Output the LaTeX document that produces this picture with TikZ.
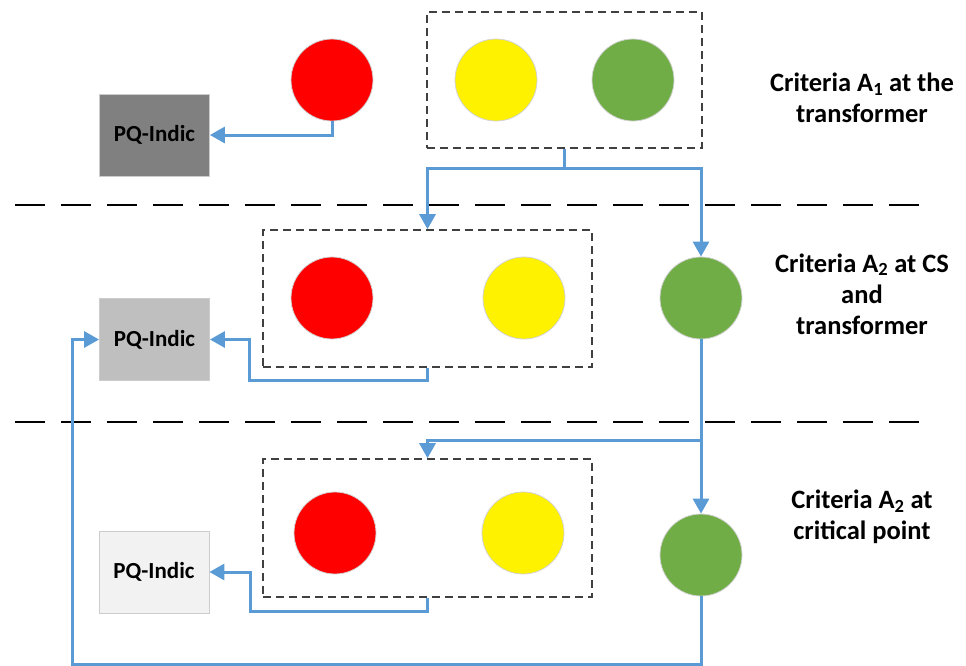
\documentclass[tikz,border=0pt]{standalone}
\usepackage{fontspec}
\setmainfont{Carlito}
\usetikzlibrary{arrows.meta,positioning}
\definecolor{lblue}{HTML}{5B9BD5}
\definecolor{lgreen}{HTML}{70AD47}
\begin{document}
\begin{tikzpicture}[x=1pt,y=-1pt,font=\bfseries\fontsize{23}{30}\selectfont,
    lamp/.style={circle,minimum size=82pt,inner sep=0pt,draw=gray!35,line width=0.8pt},
    pq/.style={minimum width=110pt,minimum height=82pt,inner sep=0pt,draw=gray!40,line width=0.8pt},
    grp/.style={draw=black!75,line width=1.6pt,dash pattern=on 8pt off 5pt},
    conn/.style={draw=lblue,line width=3pt,-{Triangle[length=15pt,width=16pt]}},
    sep/.style={line width=2.2pt,dash pattern=on 30pt off 16pt},
    lbl/.style={align=center,font=\bfseries\fontsize{26.5}{31}\selectfont}]
 \useasboundingbox (0,0) rectangle (966,665);
 % stage 1
 \node[grp,minimum width=275pt,minimum height=136pt] (B1) at (564.5,80) {};
 \node[lamp,fill=red] (R1) at (332,80) {};
 \node[lamp,fill=yellow] (Y1) at (496,80) {};
 \node[lamp,fill=lgreen] (G1) at (633,80) {};
 \node[pq,fill=black!50] (PQ1) at (154.5,135) {PQ-Indic};
 \node[lbl] (L1) at (862,98) {Criteria A\textsubscript{1} at the\\transformer};
 % stage 2
 \node[grp,minimum width=329pt,minimum height=137pt] (B2) at (427.5,298.5) {};
 \node[lamp,fill=red] (R2) at (332,298) {};
 \node[lamp,fill=yellow] (Y2) at (524,298) {};
 \node[lamp,fill=lgreen] (G2) at (701,298) {};
 \node[pq,fill=black!25] (PQ2) at (154.5,339.5) {PQ-Indic};
 \node[lbl] (L2) at (862,294) {Criteria A\textsubscript{2} at CS\\and\\transformer};
 % stage 3
 \node[grp,minimum width=329pt,minimum height=138pt] (B3) at (427.5,528) {};
 \node[lamp,fill=red] (R3) at (335,533) {};
 \node[lamp,fill=yellow] (Y3) at (523,533) {};
 \node[lamp,fill=lgreen] (G3) at (701,555) {};
 \node[pq,fill=black!5] (PQ3) at (154,572) {PQ-Indic};
 \node[lbl] (L3) at (862,517) {Criteria A\textsubscript{2} at\\critical point};
 \foreach \Y in {205,422} {\draw[sep] (15,\Y) -- (920,\Y);}
 \coordinate (S1) at (564.5,168);
 \coordinate (S2) at (701,440);
 \draw[conn] (R1.south) |- (PQ1.east);
 \draw[conn] (B1.south) -- (S1) -| (B2.north);
 \draw[conn] (S1) -| (G2.north);
 \draw[conn] (B2.south) -- ++(0,13) -| ([xshift=40pt]PQ2.east) -- (PQ2.east);
 \draw[conn] (G2.south) -- (G3.north);
 \draw[conn] (S2) -| (B3.north);
 \draw[conn] (B3.south) -- ++(0,14) -| ([xshift=41pt]PQ3.east) -- (PQ3.east);
 \draw[conn] (G3.south) -- ++(0,68) -| ([xshift=-27pt]PQ2.west) -- (PQ2.west);
\end{tikzpicture}
\end{document}
